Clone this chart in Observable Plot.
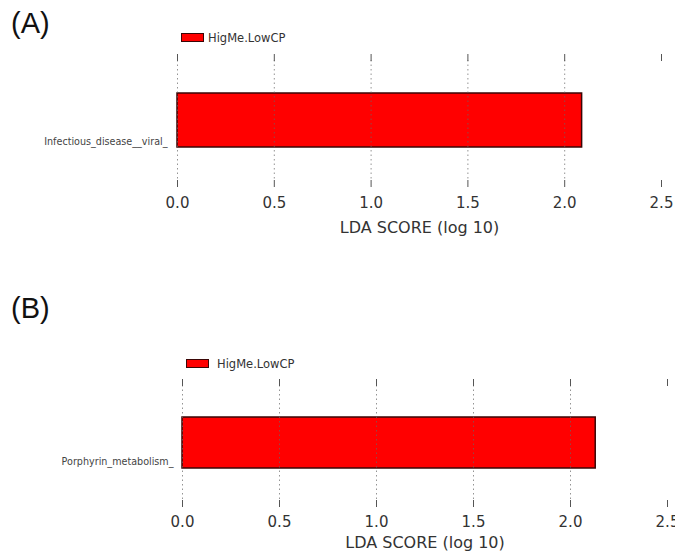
<!DOCTYPE html>
<html>
<head>
<meta charset="utf-8">
<script src="https://cdn.jsdelivr.net/npm/d3@7"></script>
<script src="https://cdn.jsdelivr.net/npm/@observablehq/plot@0.6"></script>
<style>
  html, body { margin: 0; padding: 0; background: #fff; }
  body { width: 675px; height: 560px; position: relative; overflow: hidden; font-family: "DejaVu Sans", sans-serif; }
  .panel-tag { position: absolute; font-family: "Liberation Sans", Arial, sans-serif; font-size: 29px; line-height: 29px; color: #111; }
  .legend { position: absolute; display: flex; align-items: center; font-family: "DejaVu Sans", sans-serif; font-size: 11.5px; color: #333; }
  .swatch { box-sizing: border-box; width: 23px; height: 9px; background: #ff0000; border: 1.5px solid #3a0606; }
  .plotbox { position: absolute; left: 0; }
</style>
</head>
<body>
<script>
// ---- data ----
const panelTags = ["(A)", "(B)"];
const groupName = "HigMe.LowCP";
const pathwaysA = ["Infectious_disease__viral_"];
const ldaA = [2.09];
const pathwaysB = ["Porphyrin_metabolism_"];
const ldaB = [2.13];
const xTicks = [0, 0.5, 1.0, 1.5, 2.0, 2.5];
const gridTicks = [0, 0.5, 1.0, 1.5, 2.0];
const xLabel = "LDA SCORE (log 10)";

// ---- layout (positions only) ----
const layouts = [
  {tagTop: 9, legendLeft: 181, legendTop: 33, legendGap: 4, svgTop: 0, height: 250,
   marginLeft: 177, marginRight: 14, marginTop: 60, marginBottom: 70, padding: 0.379,
   tickPadding: 10, labelDy: 52, nameDx: -10, nameDy: 21},
  {tagTop: 294, legendLeft: 186, legendTop: 359, legendGap: 8, svgTop: 320, height: 240,
   marginLeft: 182, marginRight: 8, marginTop: 65, marginBottom: 60, padding: 0.3855,
   tickPadding: 9, labelDy: 47, nameDx: -9, nameDy: 18.5}
];
const panelData = [
  pathwaysA.map((name, i) => ({name, lda: ldaA[i]})),
  pathwaysB.map((name, i) => ({name, lda: ldaB[i]}))
];

panelData.forEach((rows, k) => {
  const L = layouts[k];

  const tag = document.createElement("div");
  tag.className = "panel-tag";
  tag.style.left = "11px";
  tag.style.top = L.tagTop + "px";
  tag.textContent = panelTags[k];
  document.body.appendChild(tag);

  const legend = document.createElement("div");
  legend.className = "legend";
  legend.style.left = L.legendLeft + "px";
  legend.style.top = L.legendTop + "px";
  legend.style.height = "9px";
  const sw = document.createElement("div");
  sw.className = "swatch";
  const lt = document.createElement("span");
  lt.textContent = groupName;
  lt.style.marginLeft = L.legendGap + "px";
  legend.appendChild(sw);
  legend.appendChild(lt);
  document.body.appendChild(legend);

  const chart = Plot.plot({
    width: 675,
    height: L.height,
    marginLeft: L.marginLeft,
    marginRight: L.marginRight,
    marginTop: L.marginTop,
    marginBottom: L.marginBottom,
    style: {fontFamily: "DejaVu Sans, sans-serif", color: "#333", background: "transparent"},
    x: {domain: [0, 2.5], axis: null},
    y: {domain: rows.map(d => d.name), padding: L.padding, axis: null},
    marks: [
      Plot.barX(rows, {x: "lda", y: "name", fill: "#ff0000", stroke: "#3a0606", strokeWidth: 1.5}),
      Plot.ruleX(gridTicks, {stroke: "#666", strokeOpacity: 0.7, strokeWidth: 1, strokeDasharray: "1.5,3"}),
      Plot.axisX({anchor: "top", ticks: xTicks, tickSize: 7, tickFormat: () => "", label: null, stroke: "#555"}),
      Plot.axisX({anchor: "bottom", ticks: xTicks, tickSize: 7, tickPadding: L.tickPadding,
                  tickFormat: d3.format(".1f"), fontSize: 15, label: null, stroke: "#555"}),
      Plot.text(rows, {frameAnchor: "left", y: "name", text: "name", textAnchor: "end",
                       dx: L.nameDx, dy: L.nameDy, fontSize: 9.6, fill: "#444"}),
      Plot.text([xLabel], {frameAnchor: "bottom", text: d => d, dy: L.labelDy, fontSize: 16, fill: "#333"})
    ]
  });
  const box = document.createElement("div");
  box.className = "plotbox";
  box.style.top = L.svgTop + "px";
  box.appendChild(chart);
  document.body.insertBefore(box, document.body.firstChild);
});
</script>
</body>
</html>
